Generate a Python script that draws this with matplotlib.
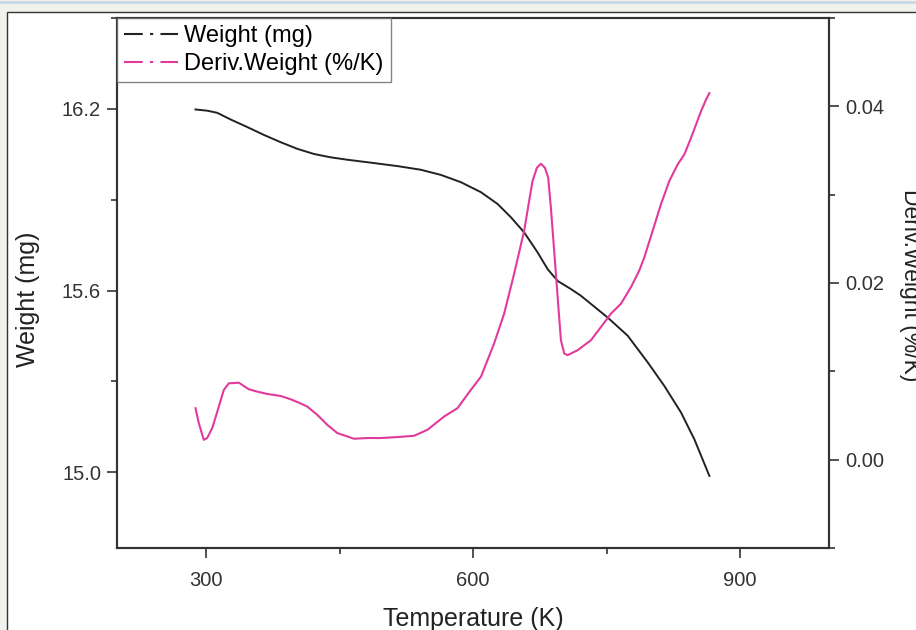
import matplotlib
matplotlib.use("Agg")
import matplotlib.pyplot as plt
from matplotlib.lines import Line2D
from matplotlib.patches import Rectangle
from matplotlib.ticker import MultipleLocator, AutoMinorLocator, FormatStrFormatter

plt.rcParams['font.family'] = ['Liberation Sans', 'DejaVu Sans']

# weight curve
temp_w = [288.2, 301.3, 312.6, 327.6, 346.3, 365.0, 383.8, 402.6, 421.3, 440.0,
          458.8, 488.8, 515.1, 541.3, 563.8, 586.3, 608.8, 627.6, 642.6, 657.5,
          672.6, 683.8, 695.0, 710.0, 721.2, 751.3, 773.8, 796.3, 815.0, 833.8,
          848.7, 865.6]
weight = [16.198, 16.194, 16.187, 16.165, 16.140, 16.114, 16.090, 16.068, 16.051, 16.040,
          16.032, 16.021, 16.011, 15.999, 15.982, 15.958, 15.925, 15.886, 15.842, 15.792,
          15.726, 15.671, 15.632, 15.605, 15.583, 15.511, 15.451, 15.363, 15.285, 15.197,
          15.109, 14.988]

# derivative weight curve
temp_d = [288.2, 291.9, 297.5, 301.3, 307.0, 314.4, 320.0, 325.6, 336.9, 348.1,
          357.6, 368.8, 383.8, 395.1, 404.4, 413.8, 425.1, 436.3, 447.6, 466.3,
          481.3, 496.3, 515.1, 533.7, 548.8, 567.5, 582.6, 597.5, 609.0, 623.7,
          635.0, 646.2, 657.5, 663.1, 666.9, 671.8, 676.3, 680.8, 684.5, 687.5,
          691.2, 695.1, 698.8, 702.5, 706.3, 717.5, 732.5, 743.8, 755.0, 766.3,
          777.5, 786.8, 792.5, 801.9, 811.2, 820.6, 830.0, 837.5, 845.0, 850.6,
          856.2, 861.8, 865.6]
deriv = [0.00583, 0.00414, 0.00225, 0.00245, 0.00357, 0.00601, 0.00789, 0.00864, 0.00871, 0.00797,
         0.00770, 0.00744, 0.00721, 0.00684, 0.00645, 0.00601, 0.00507, 0.00394, 0.00301, 0.00237,
         0.00245, 0.00245, 0.00256, 0.00270, 0.00338, 0.00488, 0.00583, 0.00789, 0.00940, 0.01315,
         0.01653, 0.02104, 0.02592, 0.02930, 0.03155, 0.03305, 0.03350, 0.03305, 0.03192, 0.02854,
         0.02366, 0.01840, 0.01352, 0.01202, 0.01183, 0.01239, 0.01352, 0.01502, 0.01653, 0.01766,
         0.01953, 0.02141, 0.02291, 0.02592, 0.02892, 0.03155, 0.03343, 0.03456, 0.03643, 0.03794,
         0.03944, 0.04076, 0.04150]

black = '#222222'
pink = '#e23a9c'

fig = plt.figure(figsize=(9.16, 6.3), dpi=100, facecolor='#f1f2ed')
# white panel of the screenshot
fig.add_artist(Rectangle((7/916, -0.01), 1.0, 1 - 12/630 + 0.01, transform=fig.transFigure,
                         facecolor='white', edgecolor='#333333', linewidth=1.0, zorder=-10))
fig.add_artist(Line2D([0, 1], [0.997, 0.997], transform=fig.transFigure, color='#c9d8e6',
                      linewidth=2, zorder=-10))

ax = fig.add_axes([117/916, 1 - 548/630, (829 - 117)/916, (548 - 18)/630])
ax.patch.set_alpha(0)
ax2 = ax.twinx()

ax.plot(temp_w, weight, color=black, linewidth=1.4)
ax2.plot(temp_d, deriv, color=pink, linewidth=1.5)

ax.set_xlim(200, 1000)
ax.set_ylim(14.75, 16.5)
ax2.set_ylim(-0.01, 0.05)

ax.xaxis.set_major_locator(MultipleLocator(300))
ax.xaxis.set_minor_locator(AutoMinorLocator(2))
ax.yaxis.set_major_locator(MultipleLocator(0.6))
ax.yaxis.set_minor_locator(AutoMinorLocator(2))
ax.yaxis.set_major_formatter(FormatStrFormatter('%.1f'))
ax2.yaxis.set_major_locator(MultipleLocator(0.02))
ax2.yaxis.set_minor_locator(AutoMinorLocator(2))
ax2.yaxis.set_major_formatter(FormatStrFormatter('%.2f'))

for a in (ax, ax2):
    for s in a.spines.values():
        s.set_linewidth(1.5)
        s.set_color('#333333')
    a.tick_params(which='major', length=7.5, width=1.2, color='#333333', labelsize=14.5,
                  labelcolor='#333333', pad=4)
    a.tick_params(which='minor', length=4.5, width=1.2, color='#333333')
ax.tick_params(axis='x', pad=9)

ax.set_xlabel('Temperature (K)', fontsize=18, color='#222222', labelpad=12)
ax.set_ylabel('Weight (mg)', fontsize=18, color='#222222')
ax.yaxis.set_label_coords(-0.108, 0.469)
ax2.set_ylabel('Deriv.Weight (%/K)', fontsize=16.5, color='#222222', rotation=270)
ax2.yaxis.set_label_coords(1.13, 0.495)

handles = [Line2D([], [], color=black, linewidth=1.5, linestyle=(0, (9, 3.5, 1.5, 3.5))),
           Line2D([], [], color=pink, linewidth=1.5, linestyle=(0, (9, 3.5, 1.5, 3.5)))]
leg = ax2.legend(handles, ['Weight (mg)', 'Deriv.Weight (%/K)'], loc='upper left',
                 bbox_to_anchor=(0, 1), borderaxespad=0, fontsize=17, frameon=True,
                 fancybox=False, handlelength=2.3, handletextpad=0.25, borderpad=0.3,
                 labelspacing=0.25)
leg.get_frame().set_edgecolor('#666666')
leg.get_frame().set_linewidth(1.0)

fig.savefig('out.png', dpi=100, facecolor=fig.get_facecolor())
